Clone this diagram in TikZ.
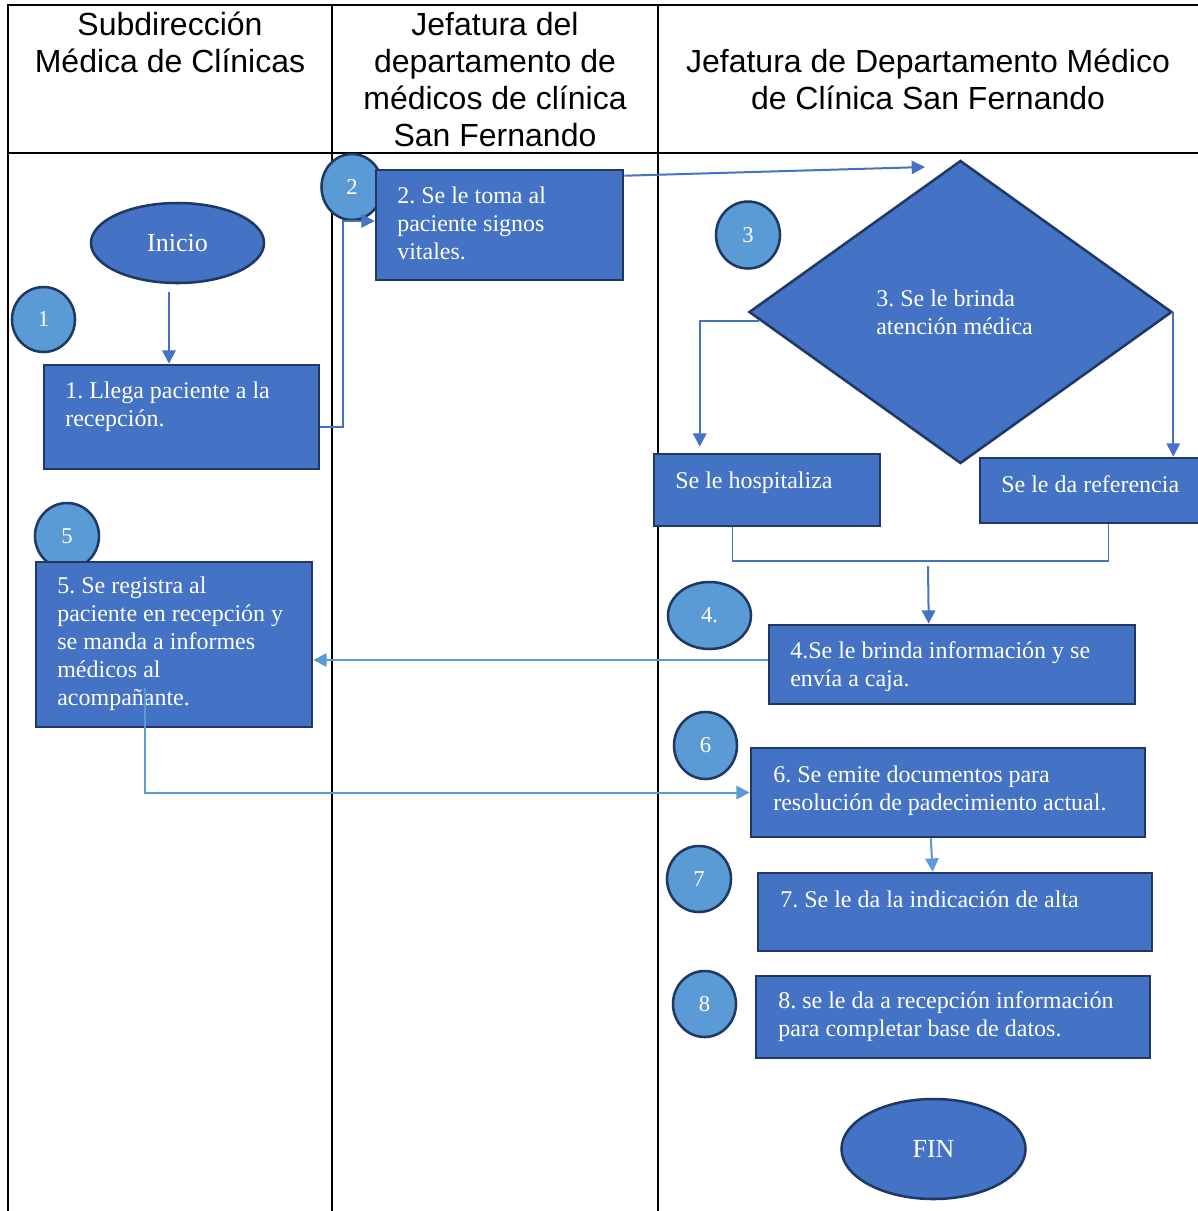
\documentclass[tikz,border=0pt]{standalone}
\usepackage{fontspec}
\setmainfont{Liberation Serif}
\newfontfamily\hdrfont{Liberation Sans}
\usetikzlibrary{arrows.meta,shapes.geometric,fit,calc}
\frenchspacing
\definecolor{boxblue}{HTML}{4472C4}
\definecolor{circblue}{HTML}{5B9BD5}
\definecolor{navy}{HTML}{1F3864}
\definecolor{linkblue}{HTML}{4472C4}
\definecolor{linklight}{HTML}{5B9BD5}
\tikzset{
  boxshape/.style={draw=navy, line width=1.9pt, fill=boxblue, inner sep=0pt},
  circshape/.style={ellipse, draw=navy, line width=1.9pt, fill=circblue, inner sep=0pt, text=white, font=\fontsize{17}{19}\selectfont},
  termshape/.style={ellipse, draw=navy, line width=1.9pt, fill=boxblue, inner sep=0pt, text=white, font=\fontsize{19.5}{22}\selectfont},
  boxtext/.style={anchor=base west, inner sep=0pt, text=white, align=left, font=\fontsize{18}{21}\selectfont},
  hdrtext/.style={anchor=base, inner sep=0pt, align=center, font=\hdrfont\fontsize{24}{27.75}\selectfont},
  grid/.style={line width=1.5pt, black},
  arr/.style={draw=linkblue, line width=1.5pt, -{Triangle[length=10pt,width=10pt]}},
  arrlight/.style={draw=linklight, line width=1.5pt, -{Triangle[length=10pt,width=10pt]}},
  thinlink/.style={draw=linkblue, line width=0.8pt},
}
\begin{document}
\begin{tikzpicture}[x=0.75pt,y=-0.75pt]
\useasboundingbox (0,0) rectangle (1198,1211);
\fill[white] (0,0) rectangle (1198,1211);
% table
\draw[grid] (8,1211) -- (8,5) -- (1198,5);
\draw[grid] (8,153) -- (1198,153);
\draw[grid] (332,5) -- (332,1211);
\draw[grid] (658,5) -- (658,1211);
% (base anchor = baseline of the last line)
\node[hdrtext] (h1) at (170,72) {Subdirección\\Médica de Clínicas};
\node[hdrtext] (h2) at (495,146) {Jefatura del\\departamento de\\médicos de clínica\\San Fernando};
\node[hdrtext] (h3) at (928,109) {Jefatura de Departamento Médico\\de Clínica San Fernando};

% start
\node[termshape, minimum width=173*0.75pt, minimum height=80*0.75pt] (ini) at (177.5,243) {Inicio};
\node[circshape, minimum width=63*0.75pt, minimum height=65*0.75pt] (c1) at (43.5,319.5) {1};
\node[boxshape, fit={(44,365)(319,469)}] (b1) {};
\node[boxtext] (t1) at (65,426) {1. Llega paciente a la\\recepción.};

% step 2
\node[circshape, minimum width=61*0.75pt, minimum height=66*0.75pt] (c2) at (352,187) {2};
\node[boxshape, fit={(376,170)(623,280)}] (b2) {};
\node[boxtext] (t2) at (397,259) {2. Se le toma al\\paciente signos\\vitales.};

% step 3
\node[circshape, minimum width=64*0.75pt, minimum height=67*0.75pt] (c3) at (748,235) {3};
\node[diamond, draw=navy, line width=1.9pt, fill=boxblue, inner sep=0pt, minimum width=423*0.75pt, minimum height=303*0.75pt] (dia) at (960.5,312) {};
\node[boxtext] (t3) at (876,334) {3. Se le brinda\\atención médica};

\node[boxshape, fit={(654,454)(880,526)}] (hosp) {};
\node[boxtext] (th) at (675,488) {Se le hospitaliza};
\node[boxshape, fit={(980,458)(1200,523)}] (ref) {};
\node[boxtext] (tr) at (1001,492) {Se le da referencia};

% step 4
\node[circshape, minimum width=83*0.75pt, minimum height=67*0.75pt] (c4) at (709.5,615.5) {4.};
\node[boxshape, fit={(769,625)(1135,704)}] (b4) {};
\node[boxtext] (t4) at (790,686) {4.Se le brinda información y se\\envía a caja.};

% step 5
\node[circshape, minimum width=64*0.75pt, minimum height=66*0.75pt] (c5) at (67,536) {5};
\node[boxshape, fit={(36,562)(312,727)}] (b5) {};
\node[boxtext] (t5) at (57,705) {5. Se registra al\\paciente en recepción y\\se manda a informes\\médicos al\\acompañante.};

% step 6
\node[circshape, minimum width=63*0.75pt, minimum height=67*0.75pt] (c6) at (705.5,745.5) {6};
\node[boxshape, fit={(751,748)(1145,837)}] (b6) {};
\node[boxtext] (t6) at (773,810) {6. Se emite documentos para\\resolución de padecimiento actual.};

% step 7
\node[circshape, minimum width=64*0.75pt, minimum height=66*0.75pt] (c7) at (699,879) {7};
\node[boxshape, fit={(758,873)(1152,951)}] (b7) {};
\node[boxtext] (t7) at (780,907) {7. Se le da la indicación de alta};

% step 8
\node[circshape, minimum width=63*0.75pt, minimum height=66*0.75pt] (c8) at (704.5,1004) {8};
\node[boxshape, fit={(756,976)(1150,1058)}] (b8) {};
\node[boxtext] (t8) at (778,1036) {8. se le da a recepción información\\para completar base de datos.};

% end
\node[termshape, minimum width=184*0.75pt, minimum height=100*0.75pt] (fin) at (933.5,1149) {FIN};

% connectors
\coordinate (a0) at (169,292);
\draw[arr] (a0) -- (a0 |- b1.north);
\draw[arr] ($(b1.east)+(0,10)$) -| ($(b2.west)+(-32,-4)$) -- ($(b2.west)+(0,-4)$);
\coordinate (dtop) at (925,167);
\draw[arr] ($(b2.north east)+(0,7)$) -- (dtop);
\draw[arr] ($(dia.west)+(11,9)$) -| ($(hosp.north west)+(47,-6)$);
\draw[arr] (dia.east) -- (dia.east |- ref.north);
\coordinate (mrg) at (928,561);
\draw[thinlink] ($(hosp.south west)+(80,0)$) |- (mrg) -| ($(ref.south west)+(130,0)$);
\draw[arr] ($(mrg)+(0,5)$) -- ($(b4.north west)+(161,0)$);
\draw[arrlight] ($(b4.west)+(0,-4.5)$) -- ($(b5.east)+(0,15.5)$);
\draw[arrlight] ($(b5.south west)+(110,-40)$) |- (b6.west);
\draw[arrlight] ($(b6.south west)+(181,0)$) -- ($(b7.north west)+(176,0)$);
\end{tikzpicture}
\end{document}
